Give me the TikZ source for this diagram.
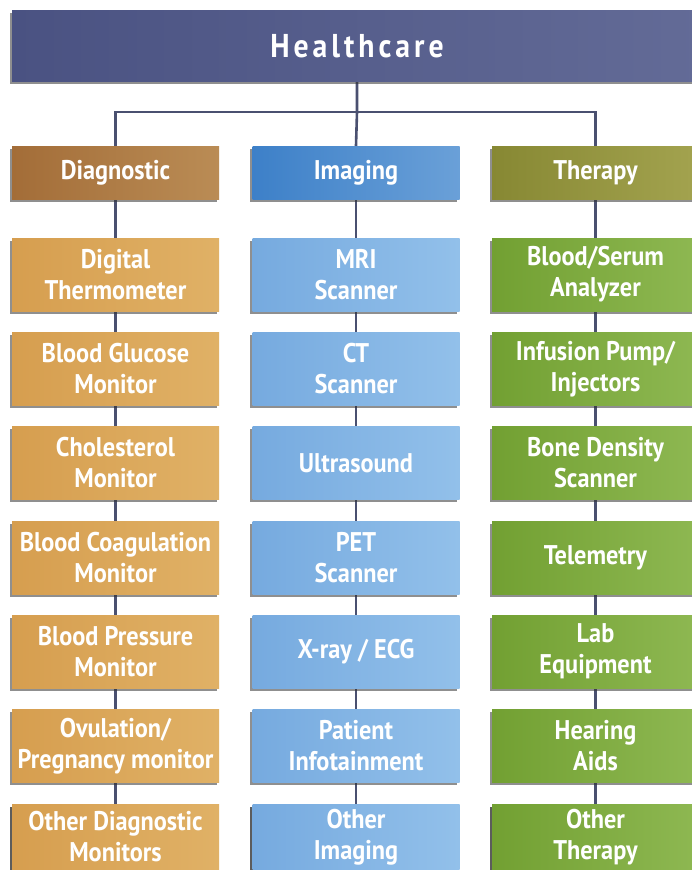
\documentclass[tikz,border=0pt]{standalone}
\usepackage{fontspec}
\setmainfont{PT Sans}[FakeStretch=0.9]
\usetikzlibrary{backgrounds,shadows}

\definecolor{hcL}{HTML}{4A5282}
\definecolor{hcR}{HTML}{636B97}
\definecolor{dgHL}{HTML}{A36D38}
\definecolor{dgHR}{HTML}{BA8C55}
\definecolor{imHL}{HTML}{3D80C8}
\definecolor{imHR}{HTML}{6AA0D8}
\definecolor{thHL}{HTML}{878833}
\definecolor{thHR}{HTML}{A3A34F}
\definecolor{dgCL}{HTML}{D69E4F}
\definecolor{dgCR}{HTML}{E0B166}
\definecolor{imCL}{HTML}{76AADF}
\definecolor{imCR}{HTML}{92C0EA}
\definecolor{thCL}{HTML}{72A032}
\definecolor{thCR}{HTML}{8EB852}
\definecolor{wire}{HTML}{4A5070}

\tikzset{
  box/.style={draw=none, inner sep=0pt, align=center, text=white,
    font=\bfseries\fontsize{27}{31}\selectfont,
    drop shadow={shadow xshift=-2.5pt, shadow yshift=-2.5pt, opacity=0.55, fill=black!80}},
  topbox/.style={box, minimum width=690pt, minimum height=71pt,
    left color=hcL, right color=hcR,
    font=\bfseries\fontsize{33}{35}\selectfont\addfontfeature{LetterSpace=12}},
  headbox/.style={box, minimum width=207pt, minimum height=53pt},
  itembox/.style={box, minimum width=207pt, minimum height=73pt},
  lastbox/.style={box, minimum width=207pt, minimum height=66pt},
  dgh/.style={headbox, left color=dgHL, right color=dgHR},
  imh/.style={headbox, left color=imHL, right color=imHR},
  thh/.style={headbox, left color=thHL, right color=thHR},
  dgc/.style={itembox, left color=dgCL, right color=dgCR},
  imc/.style={itembox, left color=imCL, right color=imCR},
  thc/.style={itembox, left color=thCL, right color=thCR},
  wireline/.style={draw=wire, line width=2.6pt}
}

\begin{document}
\begin{tikzpicture}[x=1pt, y=-1pt]
\useasboundingbox (0,0) rectangle (691,870);

% top level
\node[topbox] (hc) at (357,46) {Healthcare};

% category headers
\node[dgh] (dg) at (115.5,172.5) {Diagnostic};
\node[imh] (im) at (356,172.5) {Imaging};
\node[thh] (th) at (595.5,172.5) {Therapy};

% diagnostic column
\node[dgc] (dg1) at (115.5,274.5) {Digital\\Thermometer};
\node[dgc] (dg2) at (115.5,369) {Blood Glucose\\Monitor};
\node[dgc] (dg3) at (115.5,463) {Cholesterol\\Monitor};
\node[dgc] (dg4) at (115.5,557.5) {Blood Coagulation\\Monitor};
\node[dgc] (dg5) at (115.5,651.5) {Blood Pressure\\Monitor};
\node[dgc] (dg6) at (115.5,746) {Ovulation/\\Pregnancy monitor};
\node[dgc, lastbox] (dg7) at (115.5,837) {Other Diagnostic\\Monitors};

% imaging column
\node[imc] (im1) at (356,274.5) {MRI\\Scanner};
\node[imc] (im2) at (356,369) {CT\\Scanner};
\node[imc] (im3) at (356,463) {Ultrasound};
\node[imc] (im4) at (356,557.5) {PET\\Scanner};
\node[imc] (im5) at (356,651.5) {X-ray / ECG};
\node[imc] (im6) at (356,746) {Patient\\Infotainment};
\node[imc, lastbox] (im7) at (356,837) {Other\\Imaging};

% therapy column
\node[thc] (th1) at (595.5,274.5) {Blood/Serum\\Analyzer};
\node[thc] (th2) at (595.5,369) {Infusion Pump/\\Injectors};
\node[thc] (th3) at (595.5,463) {Bone Density\\Scanner};
\node[thc] (th4) at (595.5,557.5) {Telemetry};
\node[thc] (th5) at (595.5,651.5) {Lab\\Equipment};
\node[thc] (th6) at (595.5,746) {Hearing\\Aids};
\node[thc, lastbox] (th7) at (595.5,837) {Other\\Therapy};

\coordinate (bar) at (357,112);

% white page and connectors, behind the boxes
\begin{scope}[on background layer]
  \fill[white] (0,0) rectangle (691,870);
  \draw[wireline] (hc) -- (bar) -- (im.north);
  \draw[wireline] (dg) |- (bar) -| (th);
  \draw[wireline] (dg) -- (dg1) -- (dg2) -- (dg3) -- (dg4) -- (dg5) -- (dg6) -- (dg7);
  \draw[wireline] (im) -- (im1) -- (im2) -- (im3) -- (im4) -- (im5) -- (im6) -- (im7);
  \draw[wireline] (th) -- (th1) -- (th2) -- (th3) -- (th4) -- (th5) -- (th6) -- (th7);
\end{scope}
\end{tikzpicture}
\end{document}
